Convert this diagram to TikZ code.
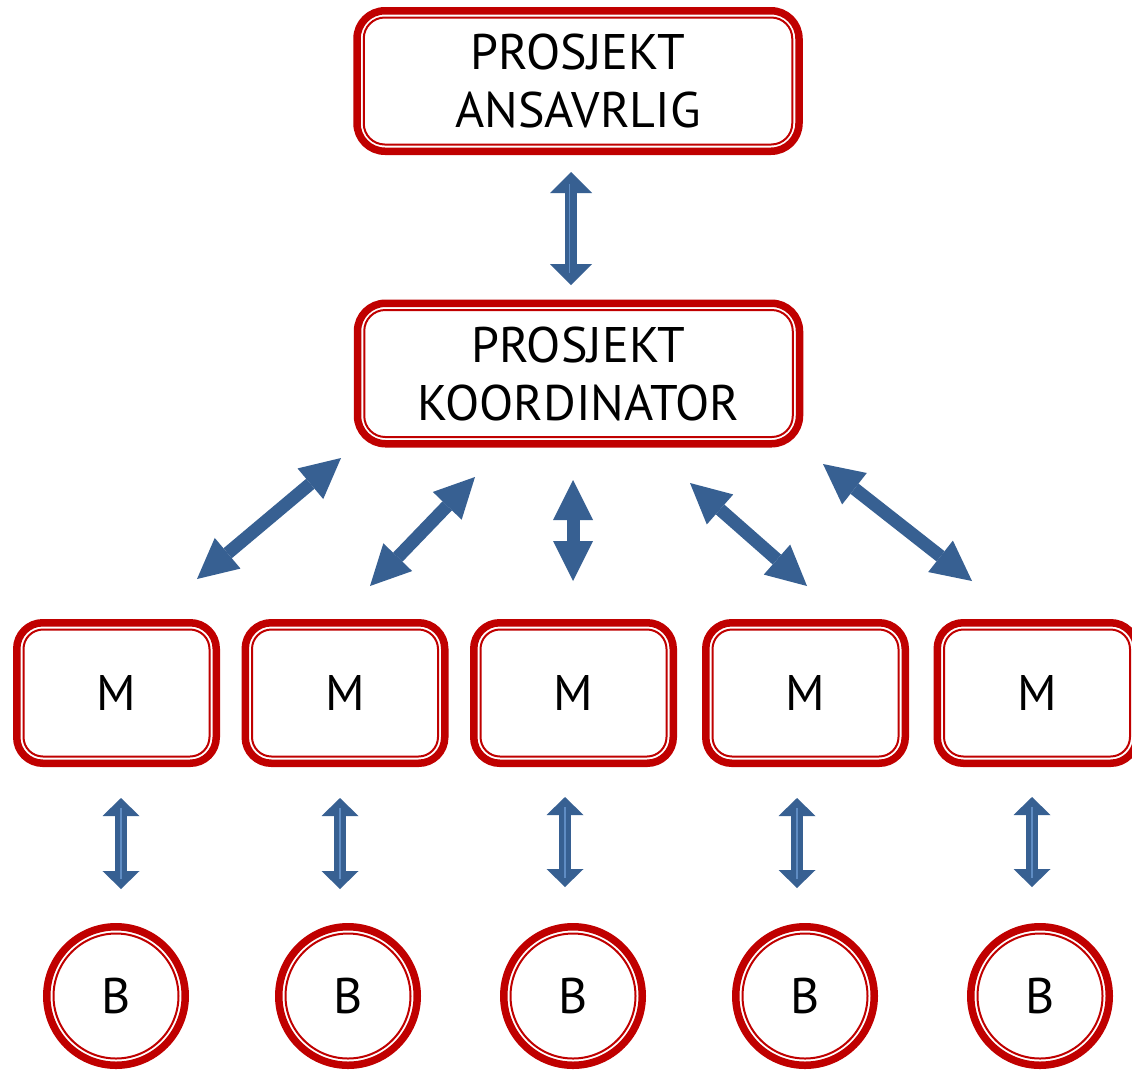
\documentclass[tikz,border=0pt]{standalone}
\usepackage{fontspec}
\setmainfont{PT Sans}
\usetikzlibrary{arrows.meta}
\definecolor{bred}{RGB}{192,0,0}
\definecolor{ablue}{RGB}{55,96,146}
\definecolor{alight}{RGB}{95,140,195}
\begin{document}
\begin{tikzpicture}[x=1pt,y=-1pt,
  every node/.style={inner sep=0pt, outer sep=0pt, text=black},
  bigbox/.style={draw=bred, line width=7.5pt, rounded corners=28pt, fill=white,
    minimum width=442pt, minimum height=140.5pt, align=center,
    font=\fontsize{50}{58}\selectfont,
    path picture={\draw[bred,line width=2pt,rounded corners=21pt]
      ([xshift=6.75pt,yshift=6.75pt]path picture bounding box.south west) rectangle
      ([xshift=-6.75pt,yshift=-6.75pt]path picture bounding box.north east);}},
  mbox/.style={draw=bred, line width=7.5pt, rounded corners=26pt, fill=white,
    minimum width=199.5pt, minimum height=140.5pt,
    font=\fontsize{50}{58}\selectfont,
    path picture={\draw[bred,line width=2pt,rounded corners=19.5pt]
      ([xshift=6.75pt,yshift=6.75pt]path picture bounding box.south west) rectangle
      ([xshift=-6.75pt,yshift=-6.75pt]path picture bounding box.north east);}},
  bcirc/.style={circle, draw=bred, line width=7.5pt, fill=white,
    minimum size=138.5pt, font=\fontsize{50}{58}\selectfont,
    path picture={\draw[bred,line width=2pt]
      (path picture bounding box.center) circle[radius=62.5pt];}},
  diagarrow/.style={draw=ablue, fill=ablue, line width=13pt,
    arrows={Triangle[length=40pt,width=40pt,line width=0pt]-Triangle[length=40pt,width=40pt,line width=0pt]}},
  toparrow/.style={draw=ablue, fill=ablue, line width=12pt,
    arrows={Triangle[length=21pt,width=42pt,line width=0pt]-Triangle[length=21pt,width=42pt,line width=0pt]}},
  smallarrow/.style={draw=ablue, fill=ablue, line width=12pt,
    arrows={Triangle[length=18pt,width=37pt,line width=0pt]-Triangle[length=18pt,width=37pt,line width=0pt]}},
  shine/.style={draw=alight, line width=1.3pt}
]
\useasboundingbox (0,0) rectangle (1132,1069);
\clip (0,0) rectangle (1132,1069);
\fill[white] (0,0) rectangle (1132,1069);

% boxes
\node[bigbox] (pa) at (578,81) {PROSJEKT\\ANSAVRLIG};
\node[bigbox] (pk) at (578.5,373.5) {PROSJEKT\\KOORDINATOR};

\node[mbox] (m1) at (116.5,693) {M};
\node[mbox] (m2) at (345,693) {M};
\node[mbox] (m3) at (573.5,693) {M};
\node[mbox] (m4) at (805.5,693) {M};
\node[mbox] (m5) at (1037,693) {M};

\node[bcirc] (b1) at (116,996) {B};
\node[bcirc] (b2) at (348,996) {B};
\node[bcirc] (b3) at (573,996) {B};
\node[bcirc] (b4) at (805,996) {B};
\node[bcirc] (b5) at (1040,996) {B};

% arrow end points
\coordinate (t1) at (571,172);  \coordinate (t2) at (571,285);
\coordinate (a1) at (197,579);  \coordinate (a2) at (341,458);
\coordinate (c1) at (370,586);  \coordinate (c2) at (475,477);
\coordinate (e1) at (573,581);  \coordinate (e2) at (573,480);
\coordinate (g1) at (807,586);  \coordinate (g2) at (690,483);
\coordinate (h1) at (972,581);  \coordinate (h2) at (823,464);

\coordinate (s1a) at (121,798);  \coordinate (s1b) at (121,889);
\coordinate (s2a) at (340,798);  \coordinate (s2b) at (340,889);
\coordinate (s3a) at (565,797);  \coordinate (s3b) at (565,887);
\coordinate (s4a) at (797,798);  \coordinate (s4b) at (797,888);
\coordinate (s5a) at (1032,797); \coordinate (s5b) at (1032,887);

% arrows
\draw[toparrow] (t1) -- (t2);
\draw[shine] ([xshift=-1.5pt]t1) ++(0,12) -- ++(0,89);

\draw[diagarrow] (a1) -- (a2);
\draw[diagarrow] (c1) -- (c2);
\draw[diagarrow] (e1) -- (e2);
\draw[diagarrow] (g1) -- (g2);
\draw[diagarrow] (h1) -- (h2);

\foreach \k in {1,...,5}{
  \draw[smallarrow] (s\k a) -- (s\k b);
  \draw[shine] (s\k a) ++(0,10) -- ++(0,71);
}
\end{tikzpicture}
\end{document}
